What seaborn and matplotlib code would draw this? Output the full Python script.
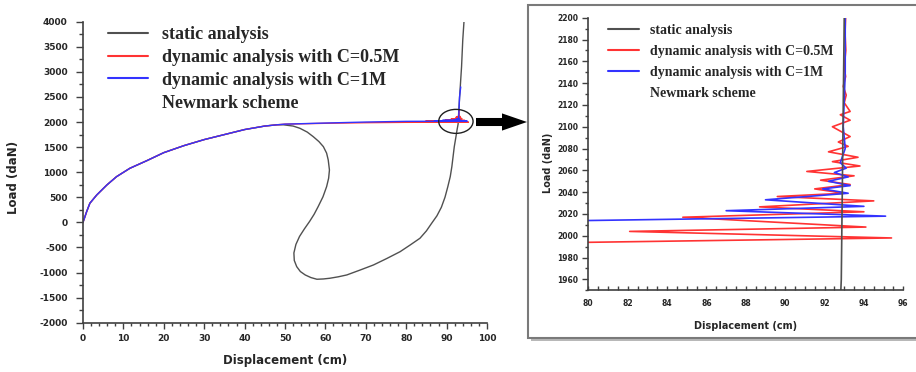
import numpy as np
import pandas as pd
import matplotlib
matplotlib.use("Agg")
import matplotlib.pyplot as plt
import seaborn as sns
from matplotlib.lines import Line2D
from matplotlib.patches import Ellipse, Rectangle, FancyArrowPatch
from matplotlib.ticker import MultipleLocator

# ---- datos ---------------------------------------------------------------
# rama de carga comun a los tres analisis
rise_disp = [0, 0.9, 1.7, 3.4, 5.9, 8.3, 11.6, 15.8, 20, 25, 30, 35, 40, 45, 48]
rise_load = [0, 213, 381, 546, 745, 911, 1078, 1230, 1390, 1530, 1650, 1750, 1850,
             1920, 1945]

# analisis estatico (snap-back)
static_disp = [49.6, 52.0, 53.7, 55.5, 57.0, 58.4, 59.5, 60.3, 60.7, 61.0,
               60.8, 60.3, 59.4, 58.2, 57.2, 56.1, 54.8, 53.6, 52.7, 52.2,
               52.3, 52.9, 53.8, 55.0, 56.4, 57.9, 59.5, 61.1, 63.2, 65.3,
               68.6, 71.9, 75.2, 78.5, 81.0, 83.4, 85.0, 86.3, 87.6, 88.7,
               89.6, 90.3, 90.9, 91.3, 91.9, 92.3, 92.6, 92.85, 93.0, 93.3,
               93.7, 94.0, 94.3]
static_load = [1945, 1920, 1875, 1800, 1708, 1610, 1509, 1380, 1244, 1044,
               880, 712, 510, 313, 160, 20, -130, -280, -440, -610,
               -760, -883, -980, -1048, -1100, -1134, -1128, -1114, -1085, -1048,
               -950, -849, -720, -584, -450, -317, -170, -18, 130, 300,
               500, 711, 910, 1110, 1508, 1700, 1850, 1960, 2200, 2600,
               3100, 3635, 4000]

# dinamico C=0.5M
red_disp = [50, 60, 70, 80, 95.4, 82.1, 94.1, 84.8, 94.0, 88.7,
            94.5, 89.6, 93.0, 91.5, 93.3, 91.8, 93.5, 91.1, 93.8, 92.4,
            93.7, 92.2, 93.2, 92.7, 93.3, 92.4, 93.3, 92.8, 93.3, 93.0,
            93.1, 92.95, 93.07, 93.0, 93.08, 93.04, 93.07, 93.1]
red_load = [1958, 1975, 1987, 1994, 1998, 2004, 2008, 2017, 2022, 2026.5,
            2032, 2036, 2039, 2043, 2047, 2051, 2055, 2059, 2064, 2068,
            2072, 2077, 2082, 2086, 2091, 2100, 2106, 2111, 2114, 2122,
            2129, 2137, 2146, 2155, 2170, 2186, 2200, 2240]

# dinamico C=1M
blue_disp = [50, 60, 70, 80, 95.1, 87.0, 94.0, 89.0, 93.2, 91.9, 93.3,
             92.2, 93.2, 92.5, 93.1, 92.8, 93.05, 92.95, 93.05, 93.05, 93.2, 93.5]
blue_load = [1958, 1980, 2000, 2014, 2018, 2023, 2027, 2033, 2039, 2043, 2046,
             2050, 2054, 2058, 2062, 2067, 2080, 2100, 2150, 2200, 2500, 2700]

CASES = ["static analysis", "dynamic analysis with C=0.5M", "dynamic analysis with C=1M"]
COLORS = {CASES[0]: "#505050", CASES[1]: "#ff3333", CASES[2]: "#3333ff"}
EXTRA_LABEL = "Newmark scheme"

frames = []
for name, d, l in [(CASES[0], static_disp, static_load),
                   (CASES[1], red_disp, red_load),
                   (CASES[2], blue_disp, blue_load)]:
    frames.append(pd.DataFrame({"disp": rise_disp + d, "load": rise_load + l, "case": name}))
df = pd.concat(frames, ignore_index=True)

# ---- estilo ---------------------------------------------------------------
sns.set_style("ticks")
plt.rcParams["font.family"] = ["DejaVu Sans"]
plt.rcParams["font.weight"] = "bold"
plt.rcParams["axes.unicode_minus"] = False

fig = plt.figure(figsize=(9.16, 3.72), dpi=100)

# marco del zoom (sombra + borde)
px = lambda x: x / 916
py = lambda y: 1 - y / 372
fig.add_artist(Rectangle((px(531), py(341)), px(400), 333 / 372, transform=fig.transFigure,
                         facecolor="#b8b8b8", edgecolor="none", zorder=-3))
fig.add_artist(Rectangle((px(528), py(338)), px(400), 333 / 372, transform=fig.transFigure,
                         facecolor="white", edgecolor="#7a7a7a", lw=1.5, zorder=-2))

ax1 = fig.add_axes([px(83), py(322.7), 404 / 916, 301 / 372])
ax2 = fig.add_axes([px(588.3), py(290.3), 315 / 916, 272.6 / 372])


def draw(ax, lw, order):
    ax.set_facecolor("none")
    sns.lineplot(data=df, x="disp", y="load", hue="case", hue_order=order,
                 palette=COLORS, sort=False, estimator=None, lw=lw, legend=False, ax=ax)
    sns.despine(ax=ax)
    for s in ["left", "bottom"]:
        ax.spines[s].set_color("#404040")
        ax.spines[s].set_linewidth(1.2)


def legend(ax, size, hl, top, left, spacing):
    handles = [Line2D([], [], color=COLORS[c], lw=1.5) for c in CASES]
    handles.append(Line2D([], [], color="none"))
    ax.legend(handles, CASES + [EXTRA_LABEL], loc="upper left", bbox_to_anchor=(left, top),
              frameon=False, borderpad=0, borderaxespad=0, handlelength=hl,
              handletextpad=0.8, labelspacing=spacing,
              prop={"family": "Liberation Serif", "weight": "bold", "size": size})


# ---- panel principal --------------------------------------------------------
draw(ax1, 1.0, [CASES[0], CASES[1], CASES[2]])
ax1.set_xlim(0, 100)
ax1.set_ylim(-2000, 4000)
ax1.xaxis.set_major_locator(MultipleLocator(10))
ax1.xaxis.set_minor_locator(MultipleLocator(2))
ax1.yaxis.set_major_locator(MultipleLocator(500))
ax1.yaxis.set_minor_locator(MultipleLocator(250))
ax1.tick_params(axis="y", which="major", length=5, width=1, pad=6, labelsize=6.5, color="#404040")
ax1.tick_params(axis="y", which="minor", length=3, width=1, color="#404040")
ax1.tick_params(axis="x", which="major", length=4, width=1, pad=4, labelsize=6.5, color="#404040")
ax1.tick_params(axis="x", which="minor", length=2.5, width=1, color="#404040")
ax1.set_xlabel("Displacement (cm)", fontsize=8.5, fontweight="bold")
ax1.set_ylabel("Load (daN)", fontsize=8.5, fontweight="bold")
ax1.xaxis.set_label_coords(0.5, -0.105)
ax1.yaxis.set_label_coords(-0.156, 0.484)
ax1.add_patch(Ellipse((92.3, 2013), 8.5, 478, fill=False, ec="#202020", lw=1.0, zorder=5))
legend(ax1, 13, 2.2, 0.985, 0.062, 0.32)

# ---- panel de zoom ----------------------------------------------------------
draw(ax2, 1.2, [CASES[1], CASES[2], CASES[0]])
ax2.set_xlim(80, 96)
ax2.set_ylim(1950, 2200)
ax2.xaxis.set_major_locator(MultipleLocator(2))
ax2.xaxis.set_minor_locator(MultipleLocator(0.5))
ax2.yaxis.set_major_locator(MultipleLocator(20))
ax2.yaxis.set_minor_locator(MultipleLocator(10))
ax2.tick_params(axis="y", which="major", length=4, width=1, pad=3, labelsize=5.5, color="#404040")
ax2.tick_params(axis="y", which="minor", length=2, width=1, color="#404040")
ax2.tick_params(axis="x", which="both", direction="in", length=3, width=1, pad=6,
                labelsize=5.5, color="#404040")
ax2.set_xlabel("Displacement (cm)", fontsize=7, fontweight="bold")
ax2.set_ylabel("Load (daN)", fontsize=7, fontweight="bold")
ax2.xaxis.set_label_coords(0.5, -0.113)
ax2.yaxis.set_label_coords(-0.112, 0.469)
legend(ax2, 10, 2.2, 0.978, 0.0625, 0.58)

# flecha entre paneles
fig.add_artist(FancyArrowPatch(
    (476, 250), (527, 250), transform=None,
    arrowstyle="simple,head_length=0.9,head_width=0.62,tail_width=0.29",
    mutation_scale=20, color="black", lw=0, shrinkA=0, shrinkB=0))

fig.savefig("out.png", dpi=100)
